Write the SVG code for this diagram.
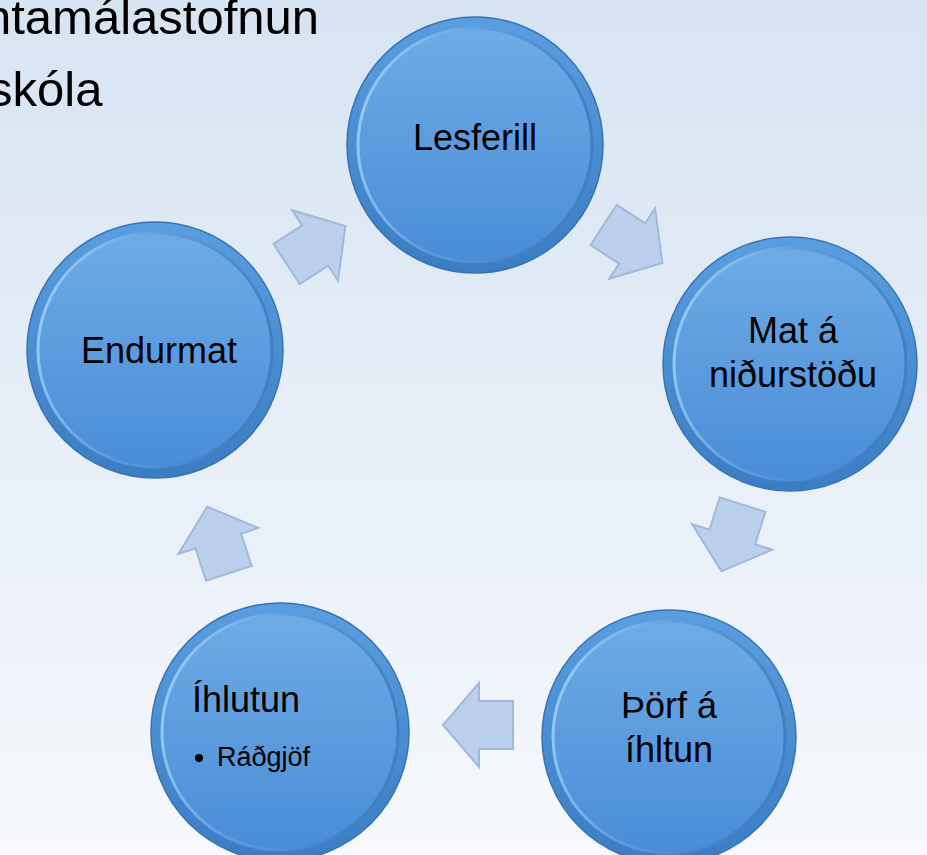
<svg xmlns="http://www.w3.org/2000/svg" width="927" height="855" viewBox="0 0 927 855">
<defs>
<linearGradient id="bg" x1="0" y1="0" x2="0" y2="1">
<stop offset="0" stop-color="#d6e4f2"/>
<stop offset="0.55" stop-color="#e8eff8"/>
<stop offset="1" stop-color="#f6f8fc"/>
</linearGradient>
<linearGradient id="rim" x1="0" y1="0" x2="0" y2="1">
<stop offset="0" stop-color="#5a9ee0"/>
<stop offset="1" stop-color="#3b7cc2"/>
</linearGradient>
<linearGradient id="face" x1="0" y1="0" x2="0" y2="1">
<stop offset="0" stop-color="#6eabe6"/>
<stop offset="1" stop-color="#4a8dd6"/>
</linearGradient>
<linearGradient id="hl" x1="0" y1="0" x2="1" y2="0.3">
<stop offset="0" stop-color="#a6d6fb"/>
<stop offset="0.5" stop-color="#5d9ee0"/>
<stop offset="1" stop-color="#3f7fc4"/>
</linearGradient>
<path id="arr" d="M-35,-24 L-1,-24 L-1,-42 L35,0 L-1,42 L-1,24 L-35,24 Z"/>
</defs>
<style>
.rim{fill:url(#rim);stroke:#3674b4;stroke-width:1.5}
.face{fill:url(#face);stroke:url(#hl);stroke-width:3}
.lbl{font-family:"Liberation Sans",Arial,sans-serif;font-size:36px;fill:#000}
.arrow{fill:#bad0ed;stroke:#9fb9da;stroke-width:2;stroke-linejoin:miter}
.title{font-family:"Liberation Sans",Arial,sans-serif;font-size:49px;fill:#000}
</style>
<rect x="0" y="0" width="927" height="855" fill="url(#bg)"/>
<g id="title">
<text class="title" x="-16" y="34">ntamálastofnun</text>
<text class="title" x="-12" y="106">skóla</text>
</g>
<g id="connectors">
<use href="#arr" class="arrow" transform="translate(316,245) rotate(-33)"/>
<use href="#arr" class="arrow" transform="translate(633,244) rotate(33)"/>
<use href="#arr" class="arrow" transform="translate(732,538) rotate(107.6)"/>
<use href="#arr" class="arrow" transform="translate(478,725) rotate(180)"/>
<use href="#arr" class="arrow" transform="translate(218,540) rotate(-108)"/>
</g>
<g id="n1">
<circle class="rim" cx="475" cy="145" r="128"/>
<circle class="face" cx="475" cy="145" r="117"/>
<text class="lbl" x="475" y="150" text-anchor="middle">Lesferill</text>
</g>
<g id="n2">
<circle class="rim" cx="790" cy="364" r="127"/>
<circle class="face" cx="790" cy="364" r="116"/>
<text class="lbl" x="793" y="343" text-anchor="middle">Mat á</text>
<text class="lbl" x="793" y="387" text-anchor="middle">niðurstöðu</text>
</g>
<g id="n3">
<circle class="rim" cx="669" cy="737" r="127"/>
<circle class="face" cx="669" cy="737" r="116"/>
<text class="lbl" x="669" y="718" text-anchor="middle">Þörf á</text>
<text class="lbl" x="669" y="762" text-anchor="middle">íhltun</text>
</g>
<g id="n4">
<circle class="rim" cx="280" cy="732" r="129"/>
<circle class="face" cx="280" cy="732" r="118"/>
<text class="lbl" x="192" y="712">Íhlutun</text>
<circle cx="199" cy="758" r="4" fill="#000"/>
<text class="lbl" x="217" y="766" style="font-size:27px">Ráðgjöf</text>
</g>
<g id="n5">
<circle class="rim" cx="155" cy="350" r="128"/>
<circle class="face" cx="155" cy="350" r="117"/>
<text class="lbl" x="159" y="363" text-anchor="middle">Endurmat</text>
</g>
</svg>
